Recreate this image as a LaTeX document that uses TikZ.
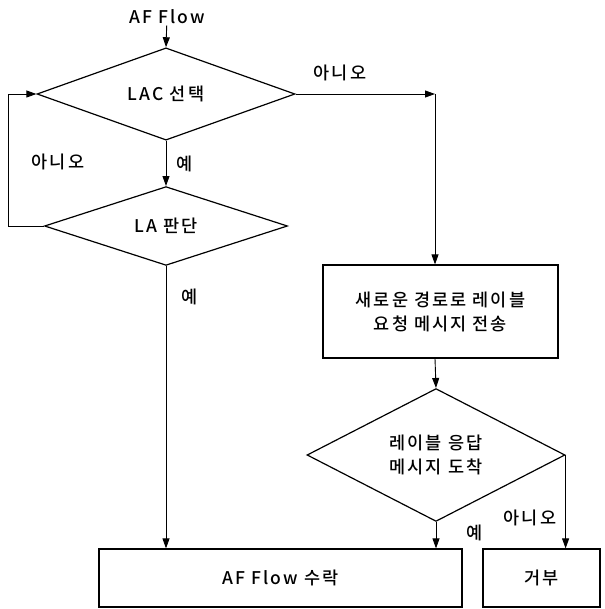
\documentclass[tikz,border=0pt]{standalone}
\usepackage{fontspec}
\setmainfont{Noto Sans CJK KR}[UprightFont=* Medium,LetterSpace=12]
\usetikzlibrary{arrows.meta,positioning,shapes.geometric}

\begin{document}
\begin{tikzpicture}[x=1pt,y=1pt,
 font=\fontsize{17.5}{24}\selectfont,
 box/.style={draw,line width=1.2pt,rectangle,inner sep=0pt,align=center},
 decide/.style={draw,line width=1.2pt,diamond,inner sep=0pt,align=center},
 lbl/.style={inner sep=1pt},
 >={Triangle[length=10pt,width=7pt]}]
\useasboundingbox (0,0) rectangle (604,-609);
\node[lbl] (start) at (167,-17) {AF Flow};
\node[decide,minimum width=258pt,minimum height=83pt] (lac) at (166,-94) {LAC 선택};
\node[decide,minimum width=243pt,minimum height=75pt] (la) at (166,-226) {LA 판단};
\node[box,minimum width=235pt,minimum height=93pt] (send) at (440.5,-311.5) {새로운 경로로 레이블\\요청 메시지 전송};
\node[decide,minimum width=258pt,minimum height=84pt] (resp) at (436,-455) {레이블 응답\\메시지 도착};
\node[box,minimum width=363pt,minimum height=58pt] (accept) at (280.5,-578) {AF Flow 수락};
\node[box,minimum width=117pt,minimum height=58pt] (reject) at (541.5,-578) {거부};
\coordinate (turn) at (435,-94);
% labels
\node[lbl] (no1) at (340,-73) {아니오};
\node[lbl] (no2) at (58,-162) {아니오};
\node[lbl] (yes1) at (185,-164) {예};
\node[lbl] (yes2) at (190,-297) {예};
\node[lbl] (no3) at (530,-518) {아니오};
\node[lbl] (yes3) at (475,-533) {예};
% connectors
\draw[->,line width=.9pt] (start) -- (lac.north);
\draw[->,line width=.9pt] (lac.south) -- (la.north);
\draw[->,line width=.9pt] (la.west) -- ++(-35,0) |- (lac.west);
\draw[->,line width=.9pt] (lac.east) -- (turn);
\draw[->,line width=.9pt] (turn) -- (turn |- send.north);
\draw[->,line width=.9pt] (send.south -| turn) -- (resp.north);
\draw[->,line width=.9pt] (la.south) -- (la.south |- accept.north);
\draw[->,line width=.9pt] (resp.south) -- (resp.south |- accept.north);
\draw[->,line width=.9pt] (resp.east) -- (resp.east |- reject.north);
\end{tikzpicture}
\end{document}
